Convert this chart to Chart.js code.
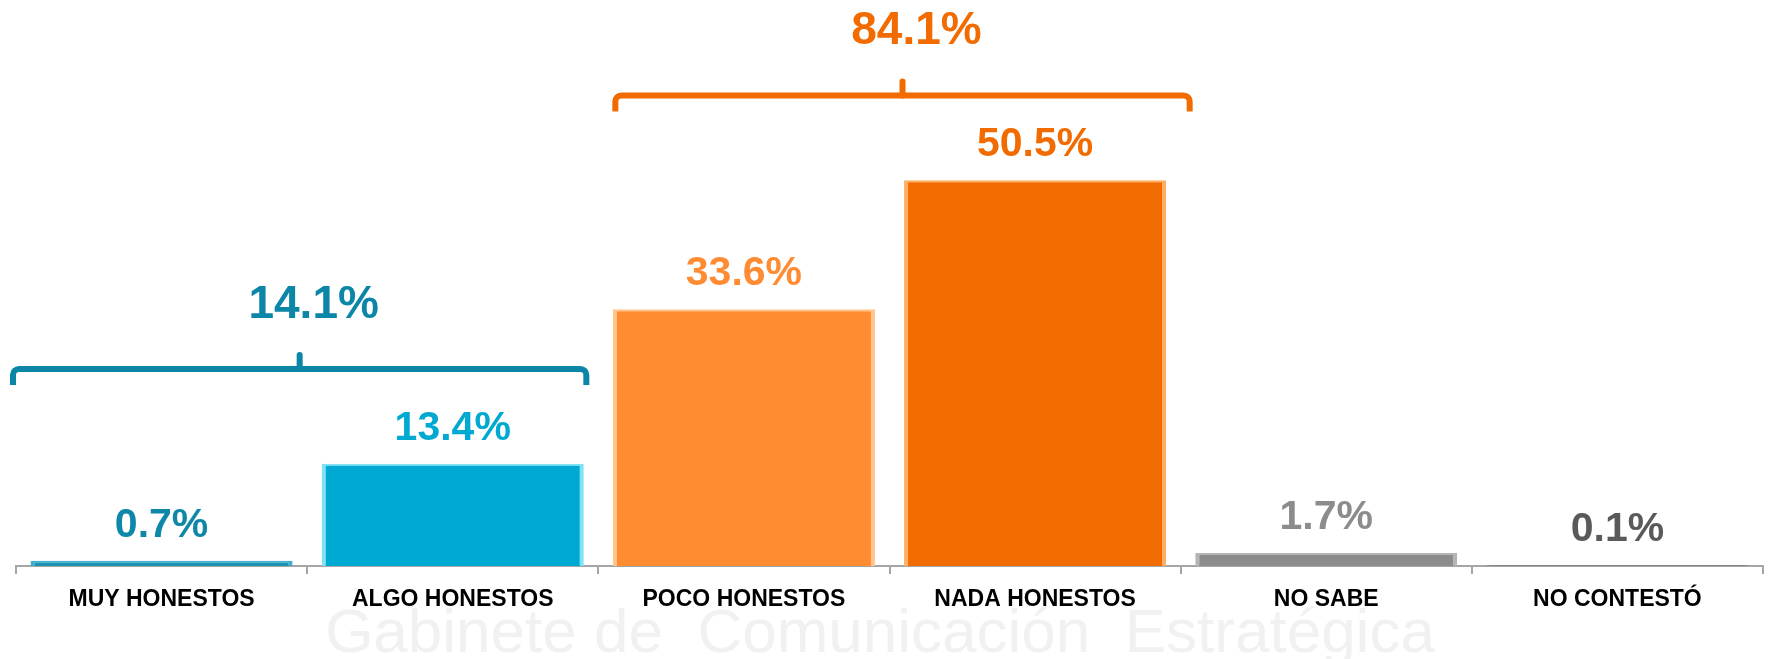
<!DOCTYPE html>
<html>
<head>
<meta charset="utf-8">
<script src="https://cdn.jsdelivr.net/npm/chart.js@4"></script>
<style>
  html, body { margin: 0; padding: 0; background: #fff; }
  #wrap { width: 1772px; height: 659px; position: relative; }
</style>
</head>
<body>
<div id="wrap"><canvas id="chart"></canvas></div>
<script>
// data
const categories = ["MUY HONESTOS", "ALGO HONESTOS", "POCO HONESTOS", "NADA HONESTOS", "NO SABE", "NO CONTESTÓ"];
const values = [0.7, 13.4, 33.6, 50.5, 1.7, 0.1];
const groupTotals = [14.1, 84.1];
const groupMembers = [[0, 1], [2, 3]];

// colours
const barColors = ["#1B93B5", "#00A9D1", "#FF8B33", "#F26B00", "#8C8C8C", "#595959"];
const edgeColors = ["#3FB0CC", "#7FE3F8", "#FFC58A", "#FFAE62", "#B5B5B5", "#7A7A7A"];
const labelColors = ["#0E87A8", "#00A9D1", "#FF8B33", "#F26B00", "#8C8C8C", "#5A5A5A"];
const groupColors = ["#0B86A6", "#F26B00"];

const FONT = '"Liberation Sans", Arial, sans-serif';

const watermark = {
    id: 'watermark',
    beforeDraw(chart) {
        const ctx = chart.ctx;
        ctx.save();
        ctx.fillStyle = '#fff';
        ctx.fillRect(0, 0, chart.width, chart.height);
        ctx.fillStyle = '#F1F1F1';
        ctx.font = '62px ' + FONT;
        ctx.textAlign = 'center';
        ctx.textBaseline = 'alphabetic';
        ctx.fillText('Gabinete de  Comunicación  Estratégica', 880, 652);
        ctx.restore();
    }
};

const valueLabels = {
    id: 'valueLabels',
    afterDatasetsDraw(chart) {
        const ctx = chart.ctx;
        const meta = chart.getDatasetMeta(0);
        ctx.save();
        ctx.font = 'bold 41px ' + FONT;
        ctx.textAlign = 'center';
        ctx.textBaseline = 'alphabetic';
        meta.data.forEach((bar, i) => {
            ctx.fillStyle = labelColors[i];
            ctx.fillText(values[i].toFixed(1) + '%', bar.x, bar.y - 24);
        });
        ctx.restore();
    }
};

const brackets = {
    id: 'brackets',
    afterDraw(chart, args, opts) {
        const ctx = chart.ctx;
        const xs = chart.scales.x, ys = chart.scales.y;
        const half = (xs.getPixelForValue(1) - xs.getPixelForValue(0)) / 2;
        ctx.save();
        opts.items.forEach((b, k) => {
            const m = groupMembers[k];
            const x1 = xs.getPixelForValue(m[0]) - half + b.dxL;
            const x2 = xs.getPixelForValue(m[m.length - 1]) + half + b.dxR;
            const yy = ys.getPixelForValue(b.level);
            const xm = (x1 + x2) / 2;
            ctx.strokeStyle = groupColors[k];
            ctx.lineWidth = 6;
            ctx.lineJoin = 'round';
            ctx.lineCap = 'butt';
            ctx.beginPath();
            ctx.moveTo(x1, yy + 16);
            ctx.arcTo(x1, yy, x1 + 10, yy, 6);
            ctx.arcTo(x2, yy, x2, yy + 10, 6);
            ctx.lineTo(x2, yy + 16);
            ctx.stroke();
            // little nub in the middle
            ctx.lineCap = 'round';
            ctx.beginPath();
            ctx.moveTo(xm, yy);
            ctx.lineTo(xm, yy - 14);
            ctx.stroke();

            ctx.fillStyle = groupColors[k];
            ctx.font = 'bold 46px ' + FONT;
            ctx.textAlign = 'center';
            ctx.textBaseline = 'alphabetic';
            ctx.fillText(groupTotals[k].toFixed(1) + '%', xm + 14, yy - 51);
        });
        ctx.restore();
    }
};

const ctx = document.getElementById("chart").getContext("2d");

new Chart(ctx, {
    type: 'bar',
    data: {
        labels: categories,
        datasets: [{
            data: values,
            backgroundColor: barColors,
            borderColor: edgeColors,
            borderWidth: { top: 2, left: 4, right: 4, bottom: 0 },
            borderSkipped: 'bottom',
            categoryPercentage: 0.9,
            barPercentage: 1.0
        }]
    },
    options: {
        responsive: true,
        maintainAspectRatio: false,
        animation: false,
        layout: { padding: { top: 16, left: 16, right: 9, bottom: 0 } },
        plugins: {
            legend: { display: false },
            tooltip: { enabled: false },
            brackets: {
                items: [
                    { level: 25.8, dxL: -3, dxR: -12 },
                    { level: 61.6, dxL: 17, dxR: 9 }
                ]
            }
        },
        scales: {
            x: {
                afterFit: (s) => { s.height = 93; },
                grid: {
                    offset: true,
                    drawOnChartArea: false,
                    drawTicks: true,
                    tickLength: 8,
                    color: '#A6A6A6',
                    lineWidth: 2
                },
                border: { display: true, color: '#A6A6A6', width: 2 },
                ticks: {
                    color: '#000',
                    padding: 12,
                    maxRotation: 0,
                    autoSkip: false,
                    font: { family: FONT, size: 23, weight: 'bold' }
                }
            },
            y: {
                display: false,
                min: 0,
                max: 72
            }
        }
    },
    plugins: [watermark, valueLabels, brackets]
});
</script>
</body>
</html>
